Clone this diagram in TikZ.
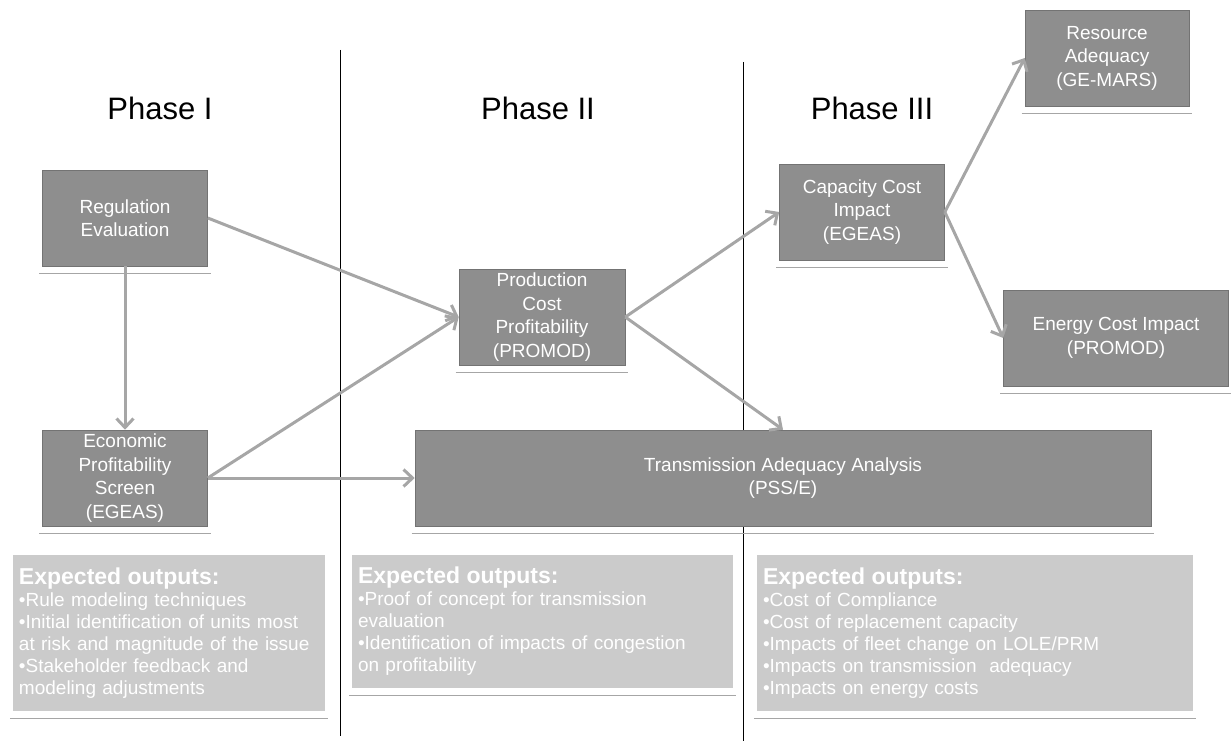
\documentclass[tikz,border=0pt]{standalone}
\usepackage{fontspec}
\setmainfont{Liberation Sans}
\usetikzlibrary{arrows.meta}
\definecolor{boxgray}{HTML}{8E8E8E}
\definecolor{outgray}{HTML}{CBCBCB}
\definecolor{flowgray}{HTML}{A6A6A6}
\tikzset{
  phase/.style={font=\fontsize{31}{36}\selectfont},
  stage/.style={draw=black!55, line width=0.6pt, fill=boxgray, text=white,
    align=center, inner sep=0pt, minimum height=96pt,
    font=\fontsize{19}{23.5}\selectfont},
  outbox/.style={fill=outgray, text=white, align=left, inner xsep=6pt,
    font=\fontsize{19}{22}\selectfont},
  flow/.style={draw=flowgray, line width=3pt,
    -{Straight Barb[length=9pt,width=17pt]}},
  divider/.style={draw=black, line width=0.9pt},
  underline/.style={draw=black!35, line width=0.8pt}
}
\newcommand{\outhead}{\bfseries\fontsize{23}{26}\selectfont}
\begin{document}
\begin{tikzpicture}[x=1pt,y=-1pt]
\useasboundingbox (0,0) rectangle (1231,741);
% phase dividers
\coordinate (d1top) at (340,50);
\coordinate (d1bot) at (340,736);
\coordinate (d2top) at (743,62);
\coordinate (d2bot) at (743,741);
\draw[divider] (d1top) -- (d1bot);
\draw[divider] (d2top) -- (d2bot);

% phase titles
\node[phase] (ph1) at (160,108) {Phase I};
\node[phase] (ph2) at (538,108) {Phase II};
\node[phase] (ph3) at (872,108) {Phase III};

% model boxes
\node[stage, minimum width=165pt] (reg) at (125,218) {Regulation\\Evaluation};
\node[stage, minimum width=165pt] (eco) at (125,478) {Economic\\Profitability\\Screen\\(EGEAS)};
\node[stage, minimum width=166pt] (prod) at (542,317) {Production\\Cost\\Profitability\\(PROMOD)};
\node[stage, minimum width=165pt] (cap) at (862,212) {Capacity Cost\\Impact\\(EGEAS)};
\node[stage, minimum width=164pt] (res) at (1107,58) {Resource\\Adequacy\\(GE-MARS)};
\node[stage, minimum width=225pt] (nrg) at (1116,338) {Energy Cost Impact\\(PROMOD)};
\node[stage, minimum width=736pt] (trans) at (783,478) {Transmission Adequacy Analysis\\(PSS/E)};

% expected outputs
\node[outbox, text width=300pt, minimum height=156pt] (out1) at (169,633) {%
  {\outhead Expected outputs:}\\
  •Rule modeling techniques\\
  •Initial identification of units most\\
  at risk and magnitude of the issue\\
  •Stakeholder feedback and\\
  modeling adjustments};
\node[outbox, text width=369pt, minimum height=133pt] (out2) at (542.5,621.5) {%
  {\outhead Expected outputs:}\\
  •Proof of concept for transmission\\
  evaluation\\
  •Identification of impacts of congestion\\
  on profitability};
\node[outbox, text width=424pt, minimum height=156pt] (out3) at (975,633) {%
  {\outhead Expected outputs:}\\
  •Cost of Compliance\\
  •Cost of replacement capacity\\
  •Impacts of fleet change on LOLE/PRM\\
  •Impacts on transmission\ \ adequacy\\
  •Impacts on energy costs};

% lines under the boxes
\foreach \n in {reg,eco,prod,cap,res,nrg,trans,out1,out2,out3}
  \draw[underline] ([xshift=-3pt,yshift=-7pt]\n.south west) -- ([xshift=3pt,yshift=-7pt]\n.south east);

% flows
\draw[flow] (reg.south) -- (eco.north);
\draw[flow] (reg.east) -- (prod.west);
\draw[flow] (eco.east) -- (prod.west);
\draw[flow] (eco.east) -- (trans.west);
\draw[flow] (prod.east) -- (cap.west);
\draw[flow] (prod.east) -- (trans.north);
\draw[flow] (cap.east) -- (res.west);
\draw[flow] (cap.east) -- (nrg.west);
\end{tikzpicture}
\end{document}
